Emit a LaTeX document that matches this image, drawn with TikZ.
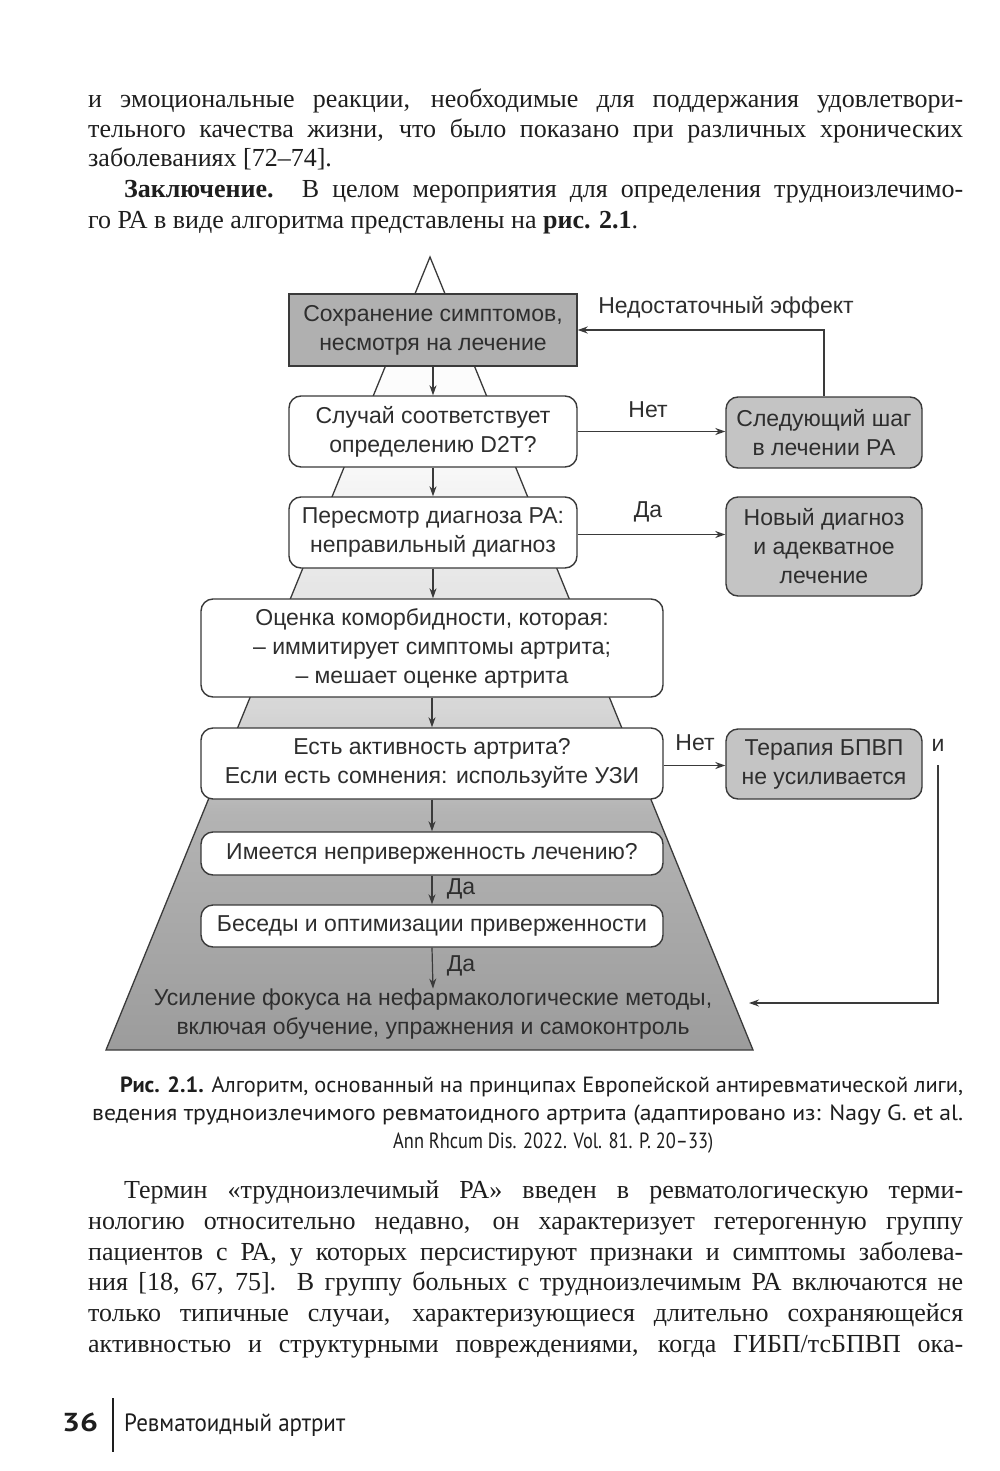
\documentclass[tikz,border=0pt]{standalone}
\usepackage{fontspec}
\usepackage{graphicx}
\usetikzlibrary{arrows.meta,calc}
\setmainfont{Liberation Serif}
\newfontfamily\dsans{Liberation Sans}
\newfontfamily\capsans{PT Sans}
\definecolor{ink}{HTML}{1E1E1E}
\definecolor{dink}{HTML}{2E2E2E}
\definecolor{bord}{HTML}{3A3A3A}
\definecolor{boxA}{HTML}{B0B0B0}
\definecolor{boxB}{HTML}{C4C4C4}
\definecolor{pga}{HTML}{FAFAFA}
\definecolor{pgb}{HTML}{E6E6E6}
\definecolor{pgc}{HTML}{D6D6D6}
\definecolor{pgd}{HTML}{B3B3B3}
\definecolor{pge}{HTML}{9C9C9C}
\pgfdeclareverticalshading{pyr}{100bp}{color(0bp)=(pge); color(25bp)=(pge); color(39.8bp)=(pgd); color(46.3bp)=(pgc); color(54.3bp)=(pgb); color(62.8bp)=(pga); color(75bp)=(white); color(100bp)=(white)}
\newsavebox\jbox
\newcommand\jline[2]{\sbox\jbox{#2}\ifdim\wd\jbox>#1\relax\resizebox{#1}{\height}{\usebox\jbox}\else\makebox[#1][s]{#2}\fi}
\newcommand\fitw[2]{\resizebox{#1}{\height}{#2}}
\tikzset{
  body/.style={anchor=base west, inner sep=0, text=ink, font=\fontsize{26}{30}\selectfont},
  captxt/.style={anchor=base west, inner sep=0, text=ink, font=\capsans\fontsize{22}{28}\selectfont},
  dtext/.style={text=dink, font=\dsans\fontsize{23}{29}\selectfont, align=center, inner sep=0},
  rbox/.style={dtext, draw=bord, line width=1.4pt, rounded corners=12pt, fill=white},
  sqbox/.style={dtext, draw=bord, line width=1.4pt, fill=boxA},
  gbox/.style={rbox, fill=boxB},
  arr/.style={draw=bord, line width=1.2pt, -{Stealth[length=10pt,width=7pt]}},
}
\begin{document}
\begin{tikzpicture}[x=1pt,y=-1pt]
\useasboundingbox (0,0) rectangle (1000,1471);
\fill[white] (0,0) rectangle (1000,1471);

% ---- body text, top
\node[body] (t1) at (88,108) {\jline{875pt}{и эмоциональные реакции, необходимые для поддержания удовлетвори-}};
\node[body] (t2) at (88,138) {\jline{875pt}{тельного качества жизни, что было показано при различных хронических}};
\node[body] (t3) at (88,167) {заболеваниях [72–74].};
\node[body] (t4) at (124,198) {\jline{839pt}{\textbf{Заключение.} В целом мероприятия для определения трудноизлечимо-}};
\node[body] (t5) at (88,229) {го РА в виде алгоритма представлены на \textbf{рис. 2.1}.};

% ---- pyramid
\path[shade, shading=pyr, draw=bord, line width=1.3pt] (430,257) -- (753,1050) -- (106,1050) -- cycle;

% ---- boxes
\node[sqbox, minimum width=288, minimum height=72] (b1) at (433,330) {Сохранение симптомов,\\несмотря на лечение};
\node[rbox, minimum width=288, minimum height=71] (b2) at (433,431.5) {Случай соответствует\\определению D2T?};
\node[rbox, minimum width=288, minimum height=71] (b3) at (433,532.5) {Пересмотр диагноза РА:\\неправильный диагноз};
\node[rbox, minimum width=462, minimum height=98] (b4) at (432,648) {Оценка коморбидности, которая:\\– иммитирует симптомы артрита;\\– мешает оценке артрита};
\node[rbox, minimum width=462, minimum height=71] (b5) at (432,763.5) {Есть активность артрита?\\Если есть сомнения: используйте УЗИ};
\node[rbox, minimum width=462, minimum height=43] (b6) at (432,853.5) {Имеется неприверженность лечению?};
\node[rbox, minimum width=462, minimum height=42] (b7) at (432,926) {Беседы и оптимизации приверженности};
\node[dtext] (b8) at (433,1014) {Усиление фокуса на нефармакологические методы,\\включая обучение, упражнения и самоконтроль};

\node[gbox, minimum width=196, minimum height=71] (b9) at (824,432.5) {Следующий шаг\\в лечении РА};
\node[gbox, minimum width=196, minimum height=99] (b10) at (824,546.5) {Новый диагноз\\и адекватное\\лечение};
\node[gbox, minimum width=196, minimum height=70] (b11) at (824,764) {Терапия БПВП\\не усиливается};

% ---- labels
\node[dtext] (l1) at (648,410) {Нет};
\node[dtext] (l2) at (648,512) {Да};
\node[dtext] (l3) at (695,743) {Нет};
\node[dtext] (l4) at (461,889) {Да};
\node[dtext] (l5) at (461,966) {Да};
\node[dtext] (fb) at (726,307) {Недостаточный эффект};
\node[dtext] (ii) at (938,745) {и};
\coordinate (tip) at (749,1003);

% ---- connectors
\draw[arr] (b1.south) -- (b2.north);
\draw[arr] (b2.south) -- (b3.north);
\draw[arr] (b3.south) -- (b3.south |- b4.north);
\draw[arr] (b4.south) -- (b5.north);
\draw[arr] (b5.south) -- (b6.north);
\draw[arr] (b6.south) -- (b7.north);
\draw[arr] (b7.south) -- (b8.north);
\draw[arr] (b2.east) -- (b2.east -| b9.west);
\draw[arr] ($(b3.east)+(0,2)$) -- ($(b3.east -| b10.west)+(0,2)$);
\draw[arr] ($(b5.east)+(0,2)$) -- ($(b5.east -| b11.west)+(0,2)$);
\draw[arr] (b9.north) |- (b1.east);
\draw[arr] ($(ii.south)+(0,14)$) |- (tip);

% ---- caption
\node[captxt] (c1) at (120,1092) {\fitw{843pt}{\textbf{Рис. 2.1.} Алгоритм, основанный на принципах Европейской антиревматической лиги,}};
\node[captxt] (c2) at (92,1120) {\fitw{871pt}{ведения трудноизлечимого ревматоидного артрита (адаптировано из: Nagy G. et al.}};
\node[captxt] (c3) at (393,1148) {\fitw{320pt}{Ann Rhcum Dis. 2022. Vol. 81. P. 20–33)}};

% ---- body text, bottom
\node[body] (u1) at (124,1198) {\jline{839pt}{Термин «трудноизлечимый РА» введен в ревматологическую терми-}};
\node[body] (u2) at (88,1229) {\jline{875pt}{нологию относительно недавно, он характеризует гетерогенную группу}};
\node[body] (u3) at (88,1260) {\jline{875pt}{пациентов с РА, у которых персистируют признаки и симптомы заболева-}};
\node[body] (u4) at (88,1290) {\jline{875pt}{ния [18, 67, 75]. В группу больных с трудноизлечимым РА включаются не}};
\node[body] (u5) at (88,1321) {\jline{875pt}{только типичные случаи, характеризующиеся длительно сохраняющейся}};
\node[body] (u6) at (88,1352) {\jline{875pt}{активностью и структурными повреждениями, когда ГИБП/тсБПВП ока-}};

% ---- footer
\node[captxt, font=\capsans\bfseries\fontsize{26}{30}\selectfont] (pn) at (62,1431) {\fitw{36pt}{36}};
\draw[ink, line width=2.4pt] (113,1398) -- (113,1452);
\node[captxt, font=\capsans\fontsize{25}{30}\selectfont] (rt) at (124,1431) {\fitw{221pt}{Ревматоидный артрит}};
\end{tikzpicture}
\end{document}
